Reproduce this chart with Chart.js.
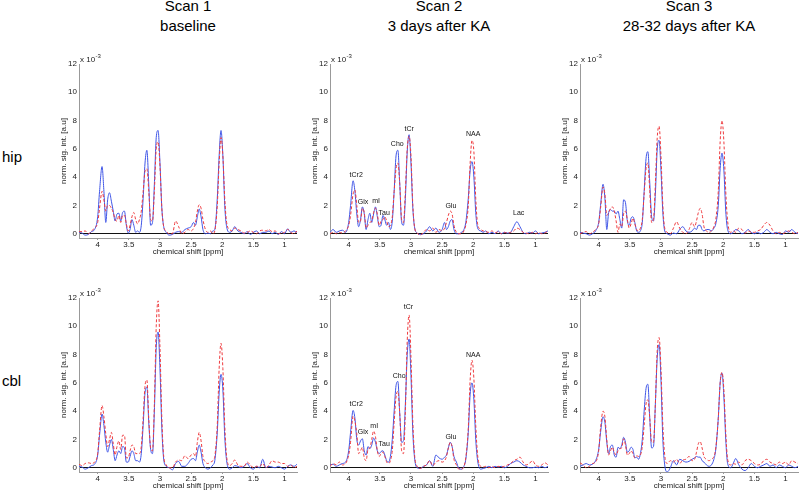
<!DOCTYPE html>
<html><head><meta charset="utf-8">
<script src="https://cdn.jsdelivr.net/npm/chart.js@4/dist/chart.umd.min.js"></script>
<style>
body{margin:0;width:800px;height:490px;position:relative;background:#fff;overflow:hidden;font-family:"Liberation Sans",Arial,sans-serif;color:#000}
canvas{position:absolute}
.ttl{position:absolute;width:260px;text-align:center;font-size:15px;line-height:20px}
.row{position:absolute;font-size:15px;line-height:15px}
</style></head><body>
<script>
// ---- data ----
const ppm = [4.30,4.25,4.20,4.15,4.10,4.05,4.00,3.97,
 3.93,3.90,3.87,3.84,3.81,3.78,3.75,3.72,3.69,3.66,3.63,3.60,3.57,3.54,3.51,3.48,3.45,3.42,3.39,3.36,3.33,3.30,3.27,3.24,3.21,3.18,3.15,3.12,3.09,3.06,3.03,3.00,2.97,2.94,
 2.90,2.85,2.80,2.75,2.70,2.65,2.60,2.55,2.50,
 2.46,2.43,2.40,2.37,2.34,2.31,
 2.27,2.23,2.19,2.15,
 2.12,2.08,2.05,2.02,1.99,1.96,1.93,
 1.88,1.84,
 1.80,1.75,1.70,1.65,1.60,1.55,1.50,1.45,1.40,1.35,1.30,1.25,1.20,1.15,1.10,1.05,1.00,0.95,0.90,0.85,0.80];

const scanTitles = [["Scan 1","baseline"],["Scan 2","3 days after KA"],["Scan 3","28-32 days after KA"]];
const rowLabels = ["hip","cbl"];
const xTicks = [4,3.5,3,2.5,2,1.5,1];
const yTicks = [0,2,4,6,8,10,12];

const hipBlue1 = [0.1,0.05,-0.1,-0.05,0.15,0.3,1.2,3.0,
 4.75,3.0,0.8,2.4,2.9,2.3,1.6,0.9,1.4,1.45,0.9,1.5,1.6,0.6,0.05,0.3,1.0,0.6,0.1,0.2,0.1,0.6,2.5,5.0,5.9,3.5,0.6,0.8,3.5,6.8,7.3,5.0,1.8,0.5,
 0.1,-0.1,-0.05,0.1,0.15,0.1,0.3,0.4,0.5,
 0.8,0.6,1.2,1.75,1.2,0.3,
 0.0,0.05,0.0,0.2,
 0.3,2.5,5.5,7.3,5.5,2.0,0.5,
 0.1,0.2,
 0.5,0.2,0.1,0.0,0.15,-0.05,0.1,0.2,0.0,0.1,0.1,0.2,0.0,0.1,-0.05,0.15,0.0,0.35,0.1,0.2,0.1];
const hipRed1 = [0.15,0.15,0.2,0.0,0.2,0.4,0.8,1.8,
 3.0,2.4,1.6,2.0,2.0,1.8,1.5,1.0,0.9,1.3,0.8,1.3,1.3,0.7,0.2,0.6,1.2,1.5,1.0,0.7,1.0,1.6,3.0,4.4,4.6,3.0,1.0,0.9,3.0,6.0,6.5,4.8,1.8,0.5,
 0.2,0.0,0.0,0.9,0.5,0.0,0.1,0.3,0.2,
 0.4,0.8,1.6,2.05,1.8,1.0,
 0.3,0.1,0.2,0.0,
 0.2,2.0,5.0,6.8,5.5,2.5,0.8,
 0.3,0.2,
 0.4,0.3,0.2,0.05,0.1,0.2,0.1,0.0,0.2,0.25,0.2,0.3,0.15,0.2,0.0,0.05,0.1,0.3,0.1,0.0,0.2];
const hipBlue2 = [0.1,0.3,0.1,0.2,0.25,0.1,0.8,2.0,
 3.75,3.0,1.4,0.5,1.0,1.9,1.4,0.3,1.0,1.45,0.8,1.4,1.9,1.2,0.5,0.6,1.3,1.0,0.6,0.8,0.3,0.9,3.0,5.5,5.9,3.5,0.8,0.6,2.5,5.8,7.0,5.0,1.8,0.4,
 0.05,-0.05,0.0,0.2,0.5,0.2,0.4,0.1,0.3,
 0.8,0.3,0.5,0.9,1.0,0.3,
 0.0,0.0,0.1,0.3,
 0.8,2.5,4.5,5.1,4.0,1.5,0.4,
 0.2,0.1,
 0.2,0.0,0.1,0.0,0.2,0.0,0.1,0.05,0.1,0.5,0.85,0.5,0.1,0.0,0.1,0.05,0.2,0.0,0.05,0.1,0.2];
const hipRed2 = [0.0,0.1,0.0,0.1,0.05,0.2,0.6,1.3,
 2.8,3.1,2.0,0.8,0.9,1.8,1.5,0.4,0.6,0.8,0.9,1.5,1.8,1.4,0.6,0.9,1.0,1.2,0.9,0.5,0.6,1.2,3.0,4.6,5.0,3.5,1.0,0.8,3.0,6.0,6.9,5.5,2.0,0.4,
 0.05,-0.1,0.1,0.3,0.2,0.4,0.1,0.3,0.2,
 0.4,0.8,1.3,1.6,1.4,0.6,
 0.1,0.0,0.0,0.2,
 0.6,2.0,5.0,6.6,5.8,2.5,0.7,
 0.3,0.2,
 0.15,0.1,0.2,0.05,0.15,0.0,0.1,0.05,0.1,0.2,0.4,0.3,0.1,0.05,0.0,0.1,0.0,0.1,0.0,0.05,0.2];
const hipBlue3 = [0.1,0.05,0.0,-0.1,0.0,0.2,0.8,2.0,
 3.5,2.5,0.3,1.5,1.7,1.6,1.6,1.4,1.6,1.0,0.4,2.4,2.2,0.9,0.6,1.1,1.2,0.8,0.2,0.1,0.2,0.8,3.0,5.3,5.8,3.6,1.2,0.9,2.8,6.0,6.6,4.5,1.5,0.2,
 0.0,-0.1,0.05,0.0,0.3,0.5,0.2,0.1,0.2,
 0.4,0.3,0.6,0.6,0.3,0.2,
 0.3,0.3,0.2,0.4,
 0.7,2.0,4.6,5.7,4.5,1.6,0.3,
 0.0,0.1,
 0.3,0.2,0.0,0.1,0.3,0.1,0.0,0.1,0.0,0.1,0.3,0.1,0.0,0.1,0.0,-0.05,0.2,0.1,0.3,0.1,0.0];
const hipRed3 = [0.0,0.1,0.15,0.0,0.1,0.3,0.7,1.8,
 3.3,2.8,1.3,1.5,1.8,1.9,1.6,0.9,0.1,0.7,0.5,1.4,1.6,1.0,0.4,0.7,1.1,0.7,0.3,0.2,0.4,1.0,2.8,4.6,5.0,3.0,0.8,1.0,3.5,6.8,7.6,5.5,2.0,0.4,
 0.1,0.0,0.4,0.85,0.4,0.1,0.0,0.3,0.8,
 0.5,0.9,1.5,1.8,1.4,0.5,
 0.2,0.1,0.2,0.5,
 1.0,3.0,6.5,8.0,6.5,3.0,0.9,
 0.1,0.2,
 0.1,0.4,0.3,0.05,0.2,0.1,0.1,0.2,0.3,0.6,0.8,0.6,0.2,0.0,0.1,0.0,0.1,0.2,0.1,0.0,0.1];
const cblBlue1 = [0.1,0.05,-0.1,0.0,0.15,0.25,0.9,2.3,
 3.8,3.0,1.8,1.1,1.6,2.0,1.3,0.5,0.9,1.2,1.0,1.5,1.4,0.4,0.4,0.8,1.2,1.0,0.5,0.5,0.4,1.0,3.0,5.3,5.7,3.2,1.3,1.0,4.0,8.5,9.6,7.0,2.8,0.6,
 0.1,0.0,-0.15,0.3,0.45,0.1,0.1,0.3,0.6,
 0.65,0.5,1.1,1.6,1.1,0.3,
 0.0,-0.1,0.0,0.2,
 0.5,2.5,5.3,6.6,5.5,2.2,0.5,
 -0.1,0.0,
 0.15,0.1,0.0,0.1,0.3,0.0,-0.1,0.1,0.0,0.6,0.0,0.1,0.05,0.0,0.1,0.0,-0.1,0.1,0.2,0.1,0.25];
const cblRed1 = [0.25,0.15,0.3,0.35,0.3,0.4,1.0,2.6,
 4.4,3.6,2.4,1.5,2.0,2.5,1.7,0.9,1.5,1.9,1.3,2.3,2.3,0.7,0.7,1.2,1.6,1.5,1.0,1.0,1.0,1.5,3.5,5.8,6.2,3.5,1.4,1.2,4.5,10.0,11.8,8.5,3.5,0.8,
 0.2,0.0,0.0,0.4,0.55,0.5,0.85,0.65,0.9,
 1.0,0.8,1.8,2.5,1.9,0.8,
 0.4,0.3,0.4,0.5,
 0.8,3.0,7.0,8.8,7.0,3.0,0.8,
 0.15,0.3,
 0.55,0.2,0.1,0.1,0.4,0.2,0.0,0.1,0.1,0.3,0.0,0.2,0.5,0.4,0.4,0.3,0.3,0.1,0.2,0.0,0.1];
const cblBlue2 = [0.2,0.25,0.1,0.2,0.3,0.4,1.2,2.5,
 4.05,3.5,2.0,1.6,1.9,2.05,1.2,0.9,1.5,1.35,1.6,2.1,1.8,1.2,1.0,1.15,1.2,0.9,0.5,0.4,0.8,2.0,4.0,5.8,6.1,3.8,1.8,1.9,4.5,8.0,9.1,6.5,2.5,0.6,
 0.0,-0.05,0.1,0.2,0.5,0.1,0.9,0.7,0.6,
 0.75,0.9,1.4,1.8,1.5,0.8,
 0.4,-0.05,-0.1,0.1,
 0.6,2.5,5.2,6.0,4.8,2.0,0.5,
 -0.1,-0.05,
 0.0,0.1,0.0,0.1,0.05,0.1,0.0,0.1,0.3,0.4,0.5,0.4,0.2,0.1,0.0,0.0,0.05,0.0,0.1,0.0,0.1];
const cblRed2 = [0.1,0.3,0.2,0.4,0.2,0.3,0.9,1.8,
 3.65,3.3,2.4,1.0,1.2,1.45,0.7,0.5,1.3,1.4,2.0,2.6,2.2,1.2,0.8,1.0,1.1,0.8,0.4,0.3,0.5,1.2,3.2,5.0,5.4,3.8,1.2,1.0,4.0,9.0,10.8,7.8,3.2,0.8,
 0.1,-0.05,0.1,0.2,0.5,0.15,0.4,0.5,0.4,
 0.5,0.8,1.4,1.8,1.5,0.6,
 0.2,-0.1,-0.1,0.1,
 0.7,2.8,6.2,7.6,6.3,3.0,0.9,
 0.1,0.05,
 0.1,0.0,0.1,0.0,0.1,0.05,0.1,0.2,0.3,0.5,0.6,0.75,0.4,0.2,0.3,0.5,0.2,0.1,0.2,0.35,0.2];
const cblBlue3 = [0.1,0.2,0.3,0.2,0.25,0.5,1.3,2.5,
 3.6,3.2,1.8,1.0,1.5,1.6,0.9,0.75,1.45,1.35,1.6,2.15,1.8,1.1,1.2,1.45,1.3,0.7,0.75,0.6,1.0,2.0,4.0,5.6,5.9,3.5,1.4,1.5,4.5,7.8,8.7,6.2,2.0,0.2,
 -0.3,0.0,0.5,0.2,0.6,0.5,0.4,0.45,0.6,
 0.7,0.8,0.75,0.75,0.5,0.4,
 0.2,0.1,0.2,0.6,
 1.3,3.5,6.0,6.7,5.0,2.0,0.3,
 0.0,0.3,
 0.65,0.2,-0.1,-0.2,0.0,0.3,0.1,0.0,0.1,0.2,0.3,0.1,0.2,0.0,0.2,0.1,0.0,0.2,0.1,0.0,0.1];
const cblRed3 = [0.35,0.2,0.0,0.1,0.3,0.4,1.2,2.8,
 4.0,3.6,2.0,0.9,1.2,1.45,1.1,0.9,1.2,1.35,1.4,2.05,1.6,0.9,1.0,1.2,1.0,0.7,0.85,0.8,0.9,1.5,3.0,4.5,4.8,3.5,1.8,1.8,4.5,8.3,9.2,7.0,3.0,0.9,
 0.3,0.5,0.4,0.6,0.3,0.55,0.6,0.8,0.5,
 0.6,1.1,1.7,1.85,1.4,0.8,
 0.6,0.5,0.6,0.8,
 1.4,3.5,6.0,6.75,5.5,2.5,0.6,
 0.2,0.3,
 0.25,0.4,0.2,0.5,0.6,0.5,0.3,0.2,0.25,0.5,0.6,0.4,0.3,0.2,0.4,0.3,0.4,0.2,0.5,0.4,0.3];

const hipPeakNames = ["tCr2","Glx","mI","Tau","Cho","tCr","Glu","NAA","Lac"];
const hipPeakPpm   = [3.88,3.77,3.56,3.43,3.22,3.03,2.36,2.00,1.27];
const hipPeakLevel = [4.15,2.26,2.33,1.44,6.34,7.38,1.96,7.05,1.44];
const cblPeakNames = ["tCr2","Glx","mI","Tau","Cho","tCr","Glu","NAA"];
const cblPeakPpm   = [3.88,3.77,3.59,3.43,3.19,3.04,2.36,2.00];
const cblPeakLevel = [4.48,2.52,2.92,1.65,6.48,11.37,2.17,8.00];

// ---- layout ----
const FONT = '"Liberation Sans", Arial, Helvetica, sans-serif';
const colLeft = [79, 330, 580];
const rowTop = [64, 298];
const PW = 218, PH = 174, YW = 20, XH = 19, PADT = 12, PADR = 2;
const BLUE = '#3f55e6', RED = '#ee3a3e';

scanTitles.forEach((t, c) => {
  const d = document.createElement('div');
  d.className = 'ttl';
  d.style.left = (colLeft[c] + PW / 2 - 130) + 'px';
  d.style.top = '-4px';
  d.innerHTML = t[0] + '<br>' + t[1];
  document.body.appendChild(d);
});
rowLabels.forEach((t, r) => {
  const d = document.createElement('div');
  d.className = 'row';
  d.style.left = '2px';
  d.style.top = (r === 0 ? 149 : 373) + 'px';
  d.textContent = t;
  document.body.appendChild(d);
});

const extras = {
  id: 'extras',
  afterDatasetsDraw(chart, args, opts) {
    const {ctx, chartArea, scales} = chart;
    ctx.save();
    ctx.fillStyle = '#222';
    ctx.textAlign = 'left';
    ctx.textBaseline = 'alphabetic';
    ctx.font = '8px ' + FONT;
    ctx.fillText('x 10', chartArea.left + 1, chartArea.top - 2);
    const w = ctx.measureText('x 10').width;
    ctx.font = '6px ' + FONT;
    ctx.fillText('-3', chartArea.left + 1.5 + w, chartArea.top - 6.5);
    if (opts && opts.names) {
      ctx.font = '7px ' + FONT;
      ctx.textAlign = 'center';
      ctx.textBaseline = 'middle';
      ctx.fillStyle = '#111';
      opts.names.forEach((n, i) => {
        ctx.fillText(n, scales.x.getPixelForValue(opts.ppm[i]), scales.y.getPixelForValue(opts.level[i]));
      });
    }
    ctx.restore();
  }
};

const panels = [
  [hipBlue1, hipRed1, null], [hipBlue2, hipRed2, [hipPeakNames, hipPeakPpm, hipPeakLevel]], [hipBlue3, hipRed3, null],
  [cblBlue1, cblRed1, null], [cblBlue2, cblRed2, [cblPeakNames, cblPeakPpm, cblPeakLevel]], [cblBlue3, cblRed3, null]
];

panels.forEach((p, k) => {
  const r = Math.floor(k / 3), c = k % 3;
  const cv = document.createElement('canvas');
  const cw = YW + PW + PADR, ch = PADT + PH + XH;
  cv.width = cw; cv.height = ch;
  cv.style.left = (colLeft[c] - YW) + 'px';
  cv.style.top = (rowTop[r] - PADT) + 'px';
  cv.style.width = cw + 'px'; cv.style.height = ch + 'px';
  document.body.appendChild(cv);
  const toPts = arr => ppm.map((x, i) => ({x: x, y: arr[i]}));
  new Chart(cv, {
    type: 'line',
    data: {
      datasets: [
        {data: toPts(p[1]), borderColor: RED, borderWidth: 1, borderDash: [3, 2], pointRadius: 0, fill: false, cubicInterpolationMode: 'monotone', order: 0},
        {data: toPts(p[0]), borderColor: BLUE, borderWidth: 1, pointRadius: 0, fill: false, cubicInterpolationMode: 'monotone', order: 1}
      ]
    },
    options: {
      responsive: false, animation: false, devicePixelRatio: 1,
      layout: {padding: {top: PADT, right: PADR, left: 0, bottom: 0}},
      plugins: {
        legend: {display: false}, tooltip: {enabled: false},
        extras: p[2] ? {names: p[2][0], ppm: p[2][1], level: p[2][2]} : {}
      },
      scales: {
        x: {
          type: 'linear', reverse: true, min: 0.8, max: 4.3,
          afterBuildTicks: s => { s.ticks = xTicks.map(v => ({value: v})); },
          afterFit: s => { s.height = XH; },
          ticks: {autoSkip: false, maxRotation: 0, padding: 0, font: {size: 8, family: FONT}, color: '#222', callback: v => String(v)},
          grid: {drawOnChartArea: false, drawTicks: true, tickLength: 2, color: '#999'},
          border: {color: '#999'},
          title: {display: true, text: 'chemical shift [ppm]', font: {size: 8, family: FONT}, color: '#222', padding: 0}
        },
        y: {
          type: 'linear', min: -0.3, max: 12,
          afterBuildTicks: s => { s.ticks = yTicks.map(v => ({value: v})); },
          afterFit: s => { s.width = YW; },
          ticks: {padding: 2, font: {size: 8, family: FONT}, color: '#222', callback: v => String(v)},
          grid: {drawTicks: false, lineWidth: 1, color: ctx => (ctx.tick && ctx.tick.value === 0) ? '#111' : 'rgba(0,0,0,0)'},
          border: {color: '#999'},
          title: {display: true, text: 'norm. sig. int. [a.u]', font: {size: 8, family: FONT}, color: '#222', padding: 0}
        }
      }
    },
    plugins: [extras]
  });
});
</script>
</body></html>
